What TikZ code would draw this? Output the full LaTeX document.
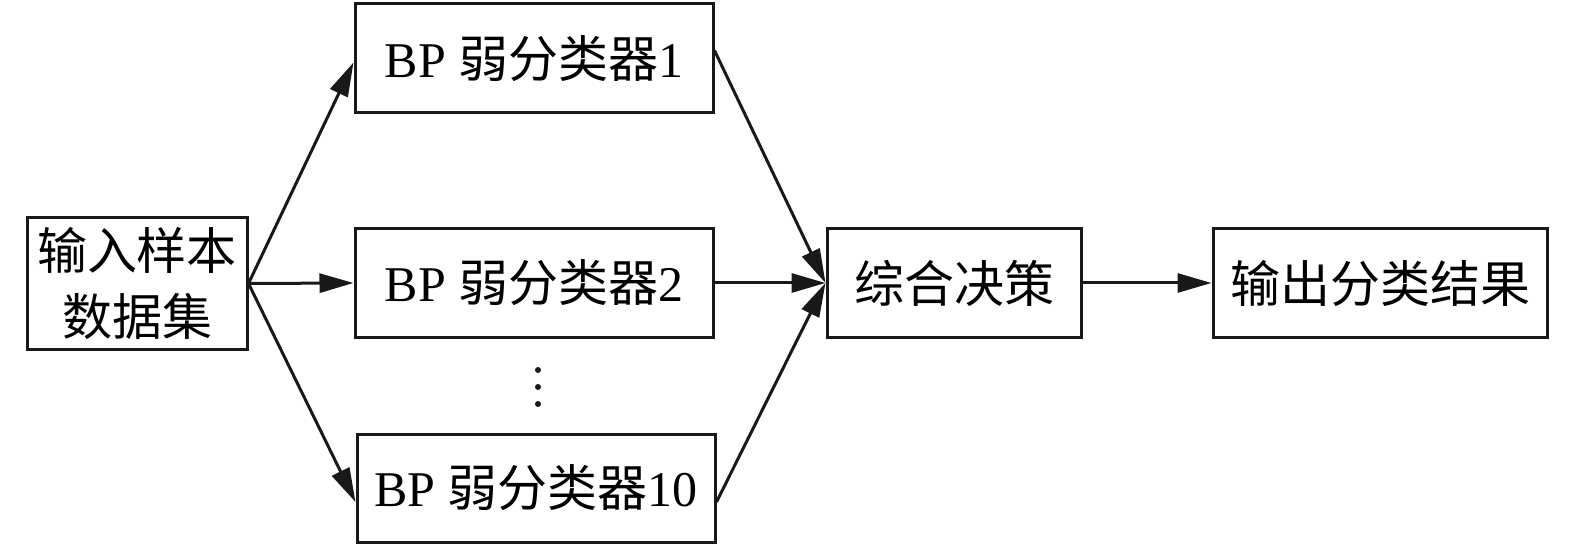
\documentclass[tikz,border=0pt]{standalone}
\usepackage{fontspec}
\setmainfont{Liberation Serif}
\newfontfamily\cjk{Noto Sans CJK SC}
\usetikzlibrary{arrows.meta}
\tikzset{
  box/.style={draw=black!90, line width=3pt, rectangle, inner sep=0pt, align=center,
    font=\fontsize{50}{66}\selectfont},
  conn/.style={line width=3pt, draw=black!90, -{Triangle[length=34pt,width=19pt]}},
  plain/.style={line width=3pt, draw=black!90},
  dot/.style={circle, fill=black!90, inner sep=0pt, minimum size=6pt}
}
\begin{document}
\begin{tikzpicture}[x=1pt,y=-1pt]
\useasboundingbox (0,0) rectangle (1575,548);
\node[box, minimum width=220pt, minimum height=131pt] (in) at (137,283.5)
  {{\cjk 输入样本}\\{\cjk 数据集}};
\node[box, minimum width=358pt, minimum height=109pt] (bp1) at (534,58.5)
  {BP {\cjk 弱分类器}1};
\node[box, minimum width=358pt, minimum height=108pt] (bp2) at (534,283)
  {BP {\cjk 弱分类器}2};
\node[box, minimum width=358pt, minimum height=108pt] (bp10) at (536,488)
  {BP {\cjk 弱分类器}10};
\node[box, minimum width=254pt, minimum height=108pt] (dec) at (954,283)
  {\cjk 综合决策};
\node[box, minimum width=334pt, minimum height=108pt] (out) at (1380,283)
  {\cjk 输出分类结果};
\node[dot] (d1) at (538,370) {};
\node[dot] (d2) at (538,387) {};
\node[dot] (d3) at (538,404) {};
\draw[conn] (in.east) -- ([yshift=-4pt]bp1.west);
\draw[conn] (in.east) -- (bp2.west);
\draw[conn] (in.east) -- ([yshift=-14pt]bp10.west);
\draw[conn] ([yshift=8pt]bp1.east) -- (dec.west);
\draw[conn] (bp2.east) -- (dec.west);
\draw[conn] ([yshift=-14pt]bp10.east) -- (dec.west);
\draw[conn] (dec.east) -- (out.west);
\end{tikzpicture}
\end{document}
